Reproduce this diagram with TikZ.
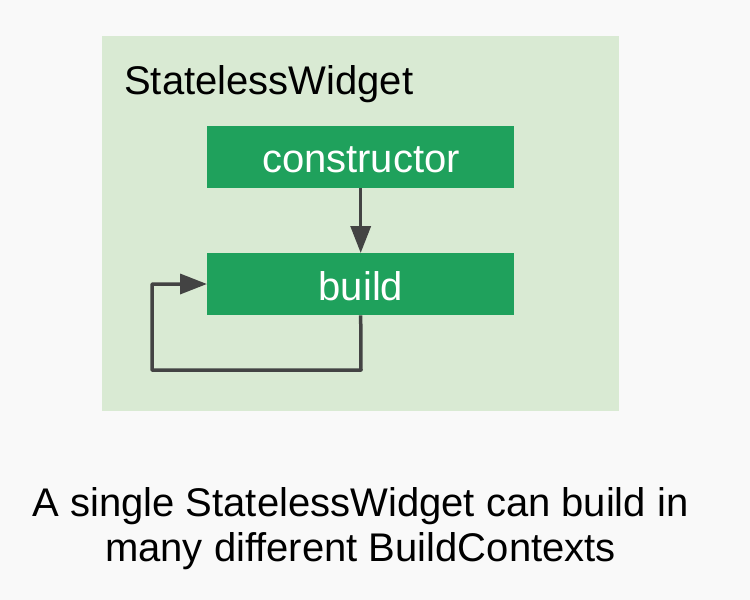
\documentclass[tikz,border=0pt]{standalone}
\usepackage{fontspec}
\setmainfont{Liberation Sans}
\usetikzlibrary{arrows.meta}
\definecolor{pagebg}{HTML}{F9F9F9}
\definecolor{panelgreen}{HTML}{D9EAD3}
\definecolor{boxgreen}{HTML}{1FA15C}
\definecolor{linegray}{HTML}{434343}
\tikzset{
  stagebox/.style={fill=boxgreen, draw=none, minimum width=307pt, minimum height=62pt, inner sep=0pt, anchor=north west},
  boxlabel/.style={text=white, font=\fontsize{40}{46}\selectfont, anchor=base, inner sep=0pt},
  bigtext/.style={text=black, font=\fontsize{40}{46}\selectfont, anchor=base, inner sep=0pt},
  flow/.style={draw=linegray, line width=3.5pt, -{Triangle[length=27pt,width=20pt]}, line join=round},
}
\begin{document}
\begin{tikzpicture}[x=1pt,y=-1pt]
\fill[pagebg] (0,0) rectangle (750,600);
\useasboundingbox (0,0) rectangle (750,600);
\fill[panelgreen] (102,36) rectangle (619,411);
\node[bigtext, anchor=base west] (title) at (124,94) {StatelessWidget};
\node[stagebox] (ctor) at (207,126) {};
\node[stagebox] (build) at (207,253) {};
\node[boxlabel] (ctorlabel) at (361,172) {constructor};
\node[boxlabel] (buildlabel) at (361,300) {build};
\coordinate (loopa) at (361,370);
\coordinate (loopb) at (152,370);
\coordinate (loopc) at (152,284);
\draw[flow] (ctor.south) -- (build.north);
\draw[flow] (build.south) -- (loopa) -- (loopb) -- (loopc) -- (build.west |- loopc);
\node[bigtext] (line1) at (360.5,516) {A single StatelessWidget can build in};
\node[bigtext] (line2) at (360.5,561) {many different BuildContexts};
\end{tikzpicture}
\end{document}
